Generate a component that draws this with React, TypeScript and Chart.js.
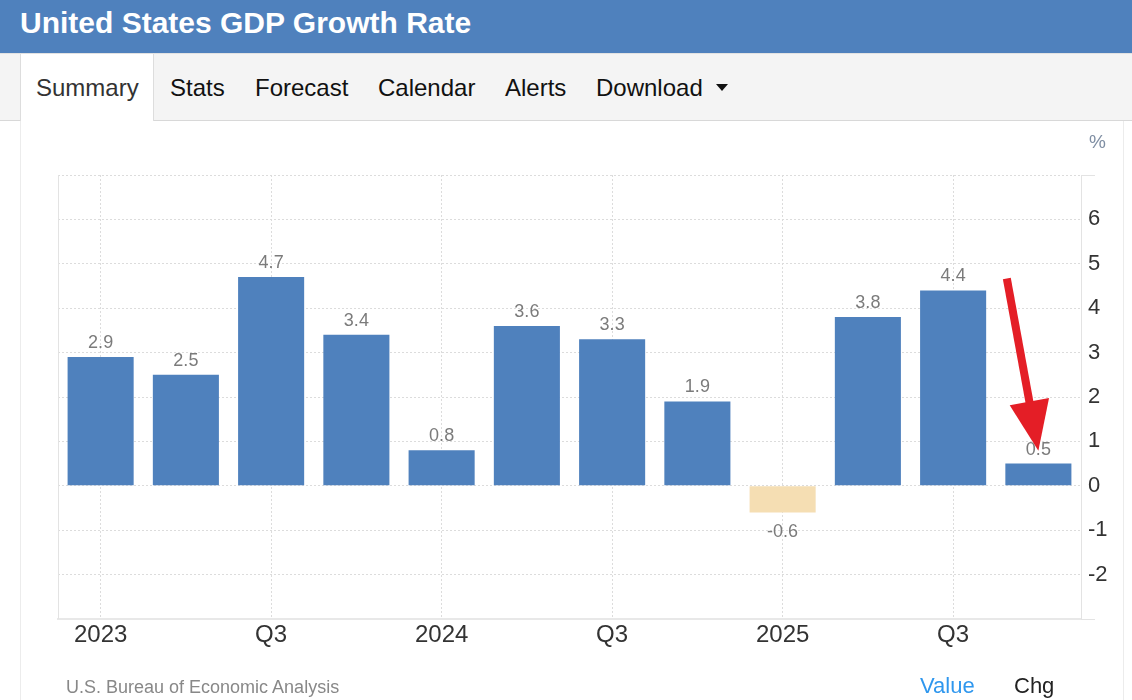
import React, { useEffect, useRef } from "react";
import { Chart, registerables } from "chart.js";

Chart.register(...registerables);

const categories = [
  "2023 Q1", "2023 Q2", "2023 Q3", "2023 Q4",
  "2024 Q1", "2024 Q2", "2024 Q3", "2024 Q4",
  "2025 Q1", "2025 Q2", "2025 Q3", "2025 Q4",
];
const gdpGrowth = [2.9, 2.5, 4.7, 3.4, 0.8, 3.6, 3.3, 1.9, -0.6, 3.8, 4.4, 0.5];
const xTickLabels = ["2023", "", "Q3", "", "2024", "", "Q3", "", "2025", "", "Q3", ""];
const yMin = -3;
const yMax = 7;
// annotation arrow, in (category index, value) units
const arrowFrom = [10.63, 4.67];
const arrowTo = [11, 0.79];

const FONT = '"Liberation Sans", Arial, Helvetica, sans-serif';
const BLUE = "#4f81bd";
const NEG = "#f5deb3";

const valueLabelPlugin = {
  id: "valueLabels",
  afterDatasetsDraw(chart: any) {
    const ctx = chart.ctx;
    const meta = chart.getDatasetMeta(0);
    ctx.save();
    ctx.font = `18px ${FONT}`;
    ctx.fillStyle = "#7b7b7b";
    ctx.textAlign = "center";
    meta.data.forEach((el: any, i: number) => {
      const v = gdpGrowth[i];
      if (v >= 0) {
        ctx.textBaseline = "alphabetic";
        ctx.fillText(v.toFixed(1), el.x, el.y - 9);
      } else {
        ctx.textBaseline = "top";
        ctx.fillText(v.toFixed(1), el.x, el.y + 11);
      }
    });
    ctx.restore();
  },
};

const frameAndArrowPlugin = {
  id: "frameAndArrow",
  beforeDatasetsDraw(chart: any) {
    const { ctx, chartArea } = chart;
    ctx.save();
    ctx.strokeStyle = "#e3e3e3";
    ctx.lineWidth = 1;
    ctx.beginPath();
    ctx.moveTo(Math.round(chartArea.left) + 0.5, chartArea.top);
    ctx.lineTo(Math.round(chartArea.left) + 0.5, chartArea.bottom);
    ctx.stroke();
    ctx.restore();
  },
  afterDraw(chart: any) {
    const { ctx, scales } = chart;
    const xs = scales.x;
    const ys = scales.y;
    const px = (i: number) => {
      const a = xs.getPixelForValue(Math.floor(i));
      const b = xs.getPixelForValue(Math.floor(i) + 1);
      return a + (b - a) * (i - Math.floor(i));
    };
    const x1 = px(arrowFrom[0]);
    const y1 = ys.getPixelForValue(arrowFrom[1]);
    const x2 = px(arrowTo[0]);
    const y2 = ys.getPixelForValue(arrowTo[1]);
    const dx = x2 - x1;
    const dy = y2 - y1;
    const len = Math.hypot(dx, dy);
    const ux = dx / len;
    const uy = dy / len;
    const headLen = 50;
    const headHalf = 20;
    const bx = x2 - ux * headLen;
    const by = y2 - uy * headLen;
    ctx.save();
    ctx.strokeStyle = "#e41e26";
    ctx.fillStyle = "#e41e26";
    ctx.lineWidth = 8;
    ctx.lineCap = "butt";
    ctx.beginPath();
    ctx.moveTo(x1, y1);
    ctx.lineTo(bx + ux * 4, by + uy * 4);
    ctx.stroke();
    ctx.beginPath();
    ctx.moveTo(x2, y2);
    ctx.lineTo(bx - uy * headHalf, by + ux * headHalf);
    ctx.lineTo(bx + uy * headHalf, by - ux * headHalf);
    ctx.closePath();
    ctx.fill();
    ctx.restore();
  },
};

function GdpChart() {
  const ref = useRef<HTMLCanvasElement | null>(null);
  useEffect(() => {
    if (!ref.current) return;
    const chart = new Chart(ref.current, {
      type: "bar",
      data: {
        labels: categories,
        datasets: [
          {
            data: gdpGrowth,
            backgroundColor: gdpGrowth.map((v) => (v < 0 ? NEG : BLUE)),
            borderWidth: 0,
            categoryPercentage: 0.775,
            barPercentage: 1,
          },
        ],
      },
      options: {
        animation: false,
        responsive: false,
        maintainAspectRatio: false,
        layout: { padding: { left: 58, top: 55, right: 0, bottom: 0 } },
        plugins: {
          legend: { display: false },
          tooltip: { enabled: false },
          title: { display: false },
        },
        scales: {
          x: {
            offset: true,
            afterFit: (s: any) => {
              s.height = 81;
            },
            grid: {
              offset: false,
              drawTicks: false,
              color: (c: any) => (xTickLabels[c.index] ? "#dcdcdc" : "rgba(0,0,0,0)"),
              lineWidth: 1,
            },
            border: { display: true, color: "#e8e8e8", width: 2, dash: [2, 2] },
            ticks: {
              autoSkip: false,
              maxRotation: 0,
              padding: 2,
              color: "#333333",
              font: { family: FONT, size: 24 },
              callback: (_v: any, i: number) => xTickLabels[i],
            },
          },
          y: {
            position: "right",
            min: yMin,
            max: yMax,
            afterFit: (s: any) => {
              s.width = 51;
            },
            grid: {
              color: "#dcdcdc",
              lineWidth: 1,
              drawTicks: true,
              tickLength: 14,
              tickColor: (c: any) =>
                c.tick && (c.tick.value === yMax || c.tick.value === yMin) ? "#e3e3e3" : "rgba(0,0,0,0)",
            },
            border: { display: true, color: "#e3e3e3", width: 1, dash: [2, 2] },
            ticks: {
              stepSize: 1,
              padding: -7,
              color: "#333333",
              font: { family: FONT, size: 22 },
              callback: (v: any) => (v === yMax || v === yMin ? "" : String(v)),
            },
          },
        },
      },
      plugins: [frameAndArrowPlugin, valueLabelPlugin],
    } as any);
    return () => chart.destroy();
  }, []);
  return <canvas ref={ref} width={1132} height={580} style={{ display: "block", width: 1132, height: 580 }} />;
}

const tabs = [
  { label: "Stats", x: 170 },
  { label: "Forecast", x: 255 },
  { label: "Calendar", x: 378 },
  { label: "Alerts", x: 505 },
  { label: "Download", x: 596 },
];

export default function App() {
  const abs = (o: React.CSSProperties): React.CSSProperties => ({ position: "absolute", ...o });
  return (
    <div
      style={{
        position: "fixed",
        left: 0,
        top: 0,
        width: 1132,
        height: 700,
        overflow: "hidden",
        background: "#ffffff",
        fontFamily: FONT,
      }}
    >
      {/* header */}
      <div style={abs({ left: 0, top: 0, width: 1132, height: 53, background: BLUE })}>
        <div
          style={abs({
            left: 20,
            top: 0,
            height: 46,
            display: "flex",
            alignItems: "center",
            color: "#ffffff",
            fontWeight: "bold",
            fontSize: 30,
            whiteSpace: "nowrap",
          })}
        >
          United States GDP Growth Rate
        </div>
      </div>
      {/* tab bar */}
      <div
        style={abs({
          left: 0,
          top: 53,
          width: 1132,
          height: 66,
          background: "#f4f4f4",
          borderTop: "1px solid #e2e2e2",
          borderBottom: "1px solid #d8d8d8",
        })}
      />
      <div
        style={abs({
          left: 20,
          top: 54,
          width: 132,
          height: 67,
          background: "#ffffff",
          borderLeft: "1px solid #dddddd",
          borderRight: "1px solid #dddddd",
        })}
      />
      <div
        style={abs({
          left: 36,
          top: 68,
          height: 40,
          display: "flex",
          alignItems: "center",
          fontSize: 24,
          color: "#333333",
        })}
      >
        Summary
      </div>
      {tabs.map((t) => (
        <div
          key={t.label}
          style={abs({
            left: t.x,
            top: 68,
            height: 40,
            display: "flex",
            alignItems: "center",
            fontSize: 24,
            color: "#111111",
            whiteSpace: "nowrap",
          })}
        >
          {t.label}
        </div>
      ))}
      <div
        style={abs({
          left: 716,
          top: 84,
          width: 0,
          height: 0,
          borderLeft: "6px solid transparent",
          borderRight: "6px solid transparent",
          borderTop: "7px solid #111111",
        })}
      />
      {/* content frame */}
      <div style={abs({ left: 20, top: 121, width: 1, height: 579, background: "#ececec" })} />
      <div style={abs({ left: 1123, top: 121, width: 1, height: 579, background: "#ececec" })} />
      {/* chart */}
      <div style={abs({ left: 0, top: 120, width: 1132, height: 580 })}>
        <GdpChart />
      </div>
      <div
        style={abs({
          left: 1089,
          top: 129,
          height: 26,
          display: "flex",
          alignItems: "center",
          fontSize: 19,
          color: "#7f8ea3",
        })}
      >
        %
      </div>
      {/* footer */}
      <div
        style={abs({
          left: 66,
          top: 674,
          height: 26,
          display: "flex",
          alignItems: "center",
          fontSize: 18,
          color: "#888888",
          whiteSpace: "nowrap",
        })}
      >
        U.S. Bureau of Economic Analysis
      </div>
      <div
        style={abs({
          left: 920,
          top: 672,
          height: 28,
          display: "flex",
          alignItems: "center",
          fontSize: 22,
          color: "#2f97ee",
        })}
      >
        Value
      </div>
      <div
        style={abs({
          left: 1014,
          top: 672,
          height: 28,
          display: "flex",
          alignItems: "center",
          fontSize: 22,
          color: "#222222",
        })}
      >
        Chg
      </div>
    </div>
  );
}
